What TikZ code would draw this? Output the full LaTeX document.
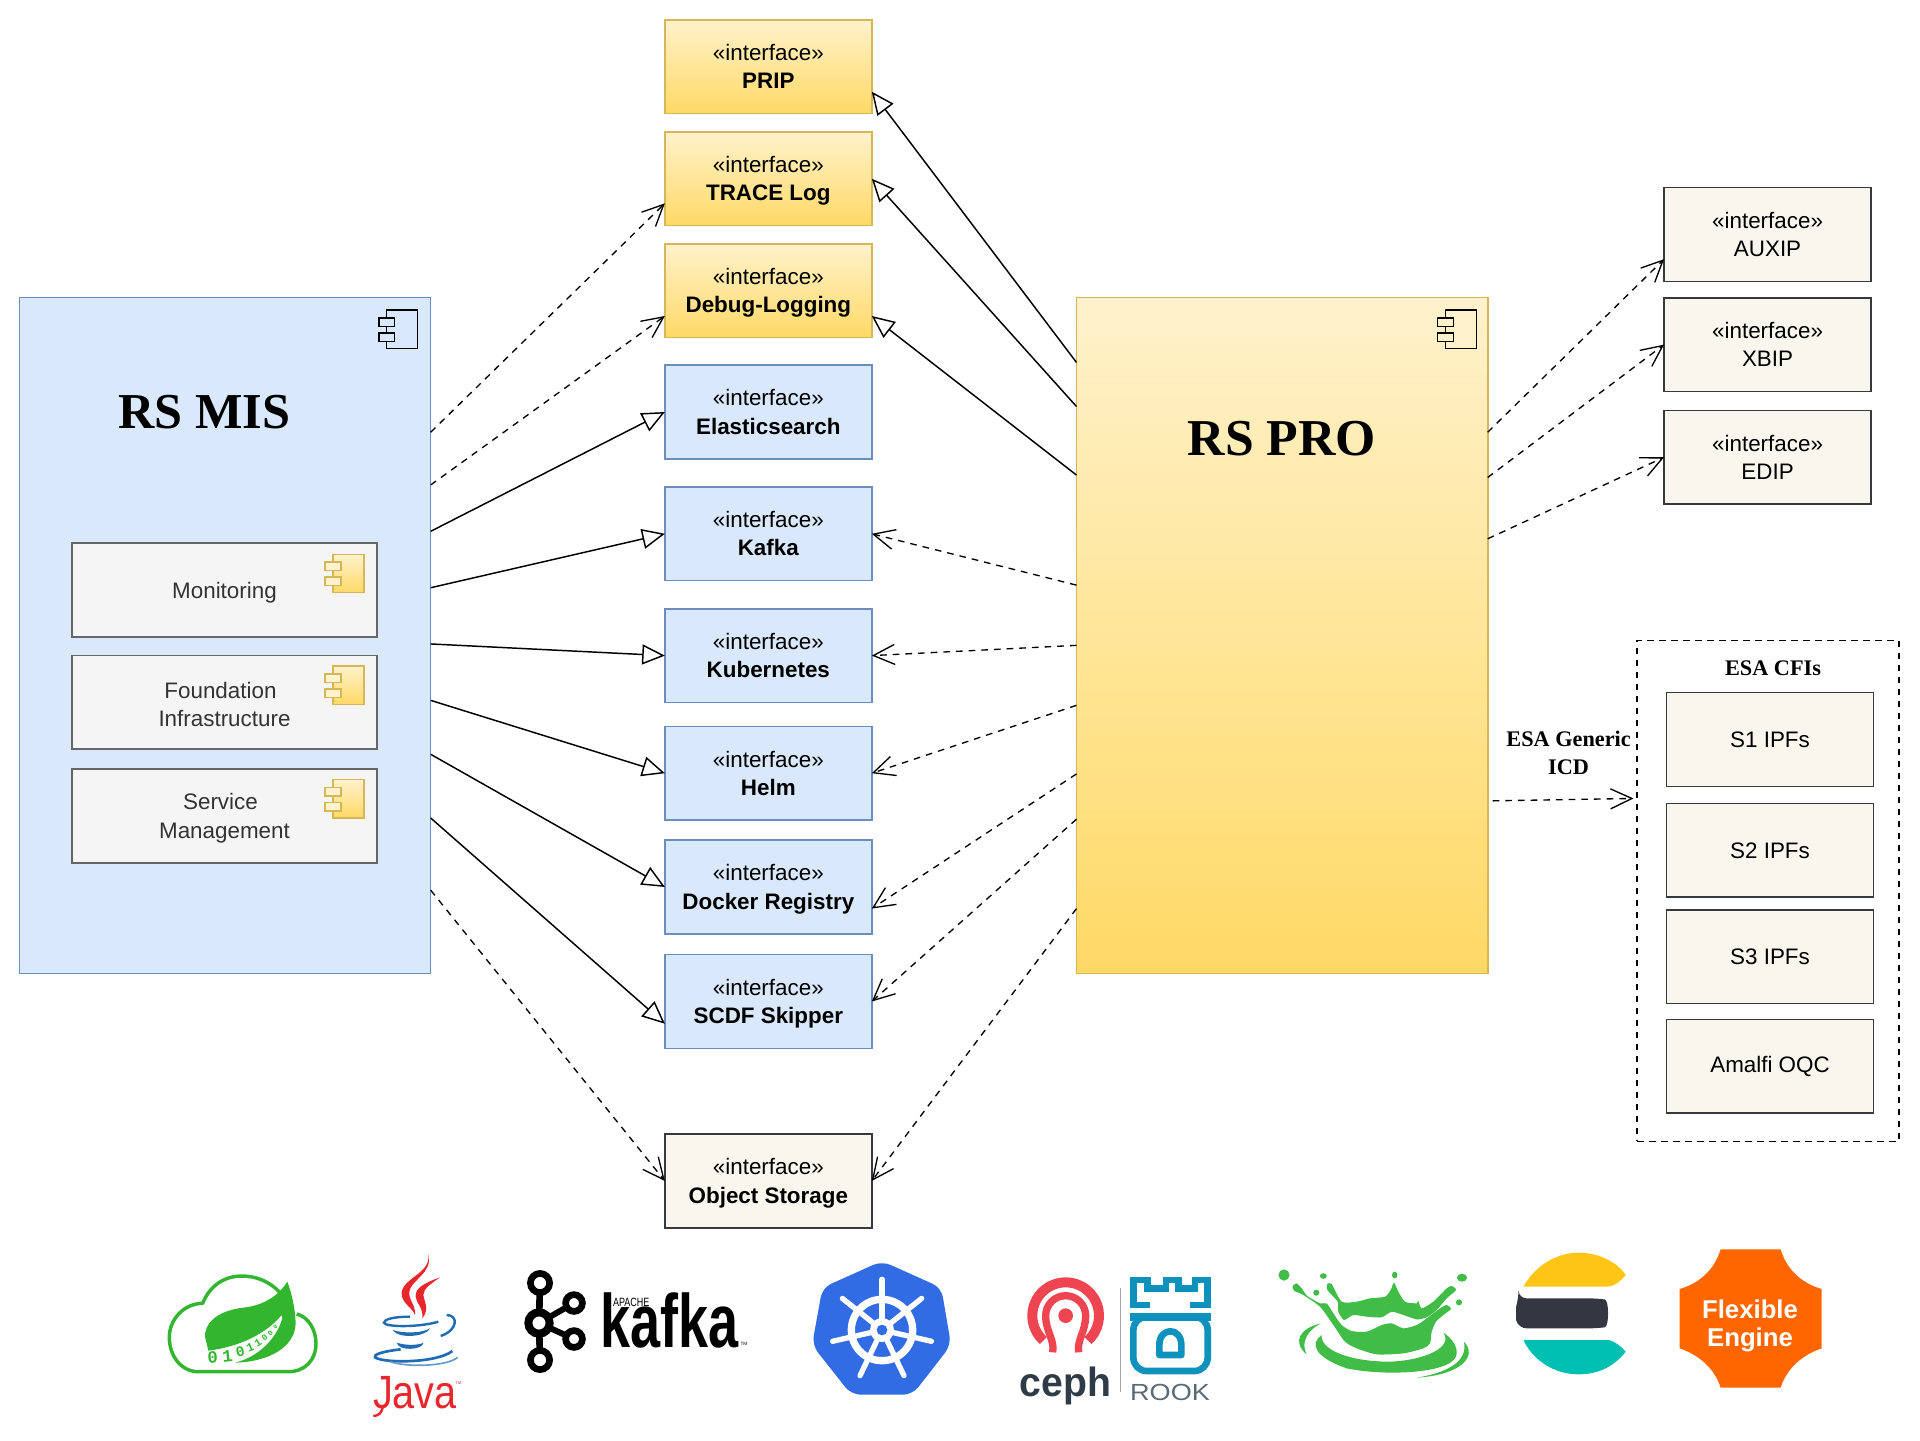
\documentclass[tikz,border=0pt]{standalone}
\usepackage{fontspec}
\usepackage{graphicx}
\setmainfont{Liberation Sans}
\setmonofont{Liberation Mono}
\newfontfamily\tnr{Liberation Serif}
\usetikzlibrary{arrows.meta,calc}
\definecolor{yt}{HTML}{FFF2CC}
\definecolor{yb}{HTML}{FFD966}
\definecolor{ys}{HTML}{D6B656}
\definecolor{bf}{HTML}{DAE8FC}
\definecolor{bs}{HTML}{6C8EBF}
\definecolor{nf}{HTML}{F9F7ED}
\definecolor{ns}{HTML}{36393D}
\definecolor{gf}{HTML}{F5F5F5}
\definecolor{gs}{HTML}{666666}
\definecolor{gt}{HTML}{333333}
\definecolor{spg}{HTML}{34B52F}
\definecolor{jred}{HTML}{E8262B}
\definecolor{jblue}{HTML}{1F6CB5}
\definecolor{kblue}{HTML}{326CE5}
\definecolor{cred}{HTML}{EF4551}
\definecolor{cdark}{HTML}{2F3B47}
\definecolor{rblue}{HTML}{0F91BE}
\definecolor{rgrey}{HTML}{5A6B78}
\definecolor{splash}{HTML}{41BC46}
\definecolor{eyel}{HTML}{FEC514}
\definecolor{edark}{HTML}{343741}
\definecolor{eteal}{HTML}{00BFB3}
\definecolor{forange}{HTML}{FF6600}
\tikzset{
  x=0.75pt,y=-0.75pt,
  boxbase/.style={rectangle,outer sep=0pt,inner sep=0pt,align=center,line width=1.2pt,
    font=\fontsize{16.8}{21.2}\selectfont},
  iface/.style={boxbase,minimum width=155.2pt,minimum height=70.3pt},
  yface/.style={iface,top color=yt,bottom color=yb,draw=ys},
  bface/.style={iface,fill=bf,draw=bs},
  nface/.style={iface,fill=nf,draw=ns},
  ipf/.style={boxbase,minimum width=155.2pt,minimum height=70.3pt,fill=nf,draw=ns},
  sub/.style={boxbase,minimum width=228.8pt,minimum height=70.3pt,fill=gf,draw=gs,text=gt},
  big/.style={boxbase,minimum width=308.4pt,minimum height=507pt},
  gen/.style={line width=1.1pt,-{Triangle[open,fill=white,length=17pt,width=15pt]}},
  dep/.style={line width=1pt,dash pattern=on 5pt off 4.5pt,-{Straight Barb[length=16pt,width=15pt]}},
  title/.style={font=\tnr\bfseries\fontsize{37.7}{42}\selectfont,inner sep=0pt},
  smallb/.style={font=\tnr\bfseries\fontsize{16.7}{21}\selectfont,inner sep=0pt,align=center},
  logot/.style={inner sep=0pt,outer sep=0pt},
  crop/.style 2 args={x=0.25pt,y=-0.25pt,shift={(#1*0.75pt,-#2*0.75pt)}},
}
\newcommand{\dnl}{\rule{0pt}{15.5pt}}
\newcommand{\compicon}[4]{%
  \draw[line width=1.1pt,#3] ({#1+8},#2) rectangle ({#1+39},{#2+38.5});
  \draw[line width=1.1pt,#4] (#1,{#2+8}) rectangle ({#1+16},{#2+16.5});
  \draw[line width=1.1pt,#4] (#1,{#2+23}) rectangle ({#1+16},{#2+31.5});
}
\begin{document}
\begin{tikzpicture}
\useasboundingbox (0,0) rectangle (1920,1440);
\begin{scope}[x=0.74761pt,y=-0.74761pt]
% big components
\node[big,fill=bf,draw=bs] (mis) at (225.8,637.5) {};
\node[big,top color=yt,bottom color=yb,draw=ys] (pro) at (1286.2,637.5) {};
\node[title] (mist) at (205,413) {RS MIS};
\node[title,font=\tnr\bfseries\fontsize{38.8}{42}\selectfont] (prot) at (1286,440) {RS PRO};
\compicon{380}{311}{draw=black,fill=bf}{draw=black,fill=bf}
\compicon{1442}{311}{draw=black,fill=yt}{draw=black,fill=yt}
% sub components
\node[sub] (mon) at (225.2,592) {\dnl Monitoring};
\node[sub] (fou) at (225.2,704.5) {\dnl Foundation\kern6pt\\Infrastructure};
\node[sub] (svc) at (225.2,818.7) {\dnl Service\kern6pt\\Management};
\compicon{326}{556}{draw=ys,top color=yt,bottom color=yb}{draw=ys,fill=yt}
\compicon{326}{668}{draw=ys,top color=yt,bottom color=yb}{draw=ys,fill=yt}
\compicon{326}{782}{draw=ys,top color=yt,bottom color=yb}{draw=ys,fill=yt}
% interfaces centre
\node[yface] (prip) at (770.8,66.8) {«interface»\\\textbf{PRIP}};
\node[yface] (trace) at (770.8,179.3) {\dnl «interface»\\\textbf{TRACE Log}};
\node[yface] (debug) at (770.8,291.7) {\dnl «interface»\\\textbf{Debug-Logging}};
\node[bface] (elastic) at (770.8,413.3) {«interface»\\\textbf{Elasticsearch}};
\node[bface] (kafka) at (770.8,535.5) {«interface»\\\textbf{Kafka}};
\node[bface] (kube) at (770.8,657.7) {«interface»\\\textbf{Kubernetes}};
\node[bface] (helm) at (770.8,775.7) {«interface»\\\textbf{Helm}};
\node[bface] (docker) at (770.8,889.8) {\dnl «interface»\\\textbf{Docker Registry}};
\node[bface] (scdf) at (770.8,1004.7) {\dnl «interface»\\\textbf{SCDF Skipper}};
\node[nface] (objst) at (770.8,1184.7) {\dnl «interface»\\\textbf{Object Storage}};
% interfaces right
\node[nface] (auxip) at (1773.2,235.2) {«interface»\\AUXIP};
\node[nface] (xbip) at (1773.2,345.7) {«interface»\\XBIP};
\node[nface] (edip) at (1773.2,458.7) {«interface»\\EDIP};
% CFI
\node[rectangle,draw=black,line width=1.2pt,dash pattern=on 5pt off 4pt,outer sep=0pt,inner sep=0pt,minimum width=196.4pt,minimum height=375.8pt] (cfi) at (1773.7,893.7) {};
\node[smallb] (cfit) at (1778.7,670.5) {ESA CFIs};
\node[ipf] (s1) at (1775.7,741.8) {S1 IPFs};
\node[ipf] (s2) at (1775.7,853) {S2 IPFs};
\node[ipf] (s3) at (1775.7,959.8) {S3 IPFs};
\node[ipf] (oqc) at (1775.7,1069.8) {Amalfi OQC};
\node[smallb] (icd) at (1573.6,755.5) {ESA Generic\\ICD};
% connectors MIS
\draw[dep] (mis.east |- 0,433.6) -- (trace.west |- 0,204);
\draw[dep] (mis.east |- 0,486.5) -- (debug.west |- 0,317);
\draw[gen] (mis.east |- 0,533) -- (elastic.west);
\draw[gen] (mis.east |- 0,589.6) -- (kafka.west);
\draw[gen] (mis.east |- 0,646) -- (kube.west);
\draw[gen] (mis.east |- 0,702.6) -- (helm.west);
\draw[gen] (mis.east |- 0,756.7) -- (docker.west);
\draw[gen] (mis.east |- 0,820.6) -- (scdf.west |- 0,1027);
\draw[dep] (mis.east |- 0,893) -- (objst.west);
% connectors PRO
\draw[gen] (pro.west |- 0,363.6) -- (prip.east |- 0,92);
\draw[gen] (pro.west |- 0,407.8) -- (trace.east);
\draw[gen] (pro.west |- 0,476.6) -- (debug.east |- 0,317);
\draw[dep] (pro.west |- 0,587) -- (kafka.east);
\draw[dep] (pro.west |- 0,647.4) -- (kube.east);
\draw[dep] (pro.west |- 0,707.6) -- (helm.east);
\draw[dep] (pro.west |- 0,776.4) -- (docker.east |- 0,911.5);
\draw[dep] (pro.west |- 0,821.8) -- (scdf.east);
\draw[dep] (pro.west |- 0,911.5) -- (objst.east);
\draw[dep] (pro.east |- 0,433.6) -- (auxip.west |- 0,260);
\draw[dep] (pro.east |- 0,479) -- (xbip.west);
\draw[dep] (pro.east |- 0,540.5) -- (edip.west);
\coordinate (g1) at (1497.4,803.4);
\coordinate (g2) at (1638.7,801);
\draw[dep] (g1) -- (g2);
\end{scope}
% ---- Spring + Java logos (3x crop coordinates)
\begin{scope}[crop={160}{1250}]
\draw[spg,line width=2.6pt,line join=round] (410,192) .. controls (445,200) and (468,240) .. (468,280)
  .. controls (468,330) and (435,365) .. (385,365) -- (115,365)
  .. controls (65,365) and (28,320) .. (28,262)
  .. controls (28,205) and (75,160) .. (128,160)
  .. controls (150,105) and (195,78) .. (245,78)
  .. controls (290,78) and (330,95) .. (360,128);
\fill[spg] (382,95) .. controls (360,130) and (320,165) .. (250,173)
  .. controls (185,180) and (135,210) .. (135,260) -- (145,302)
  .. controls (240,290) and (320,250) .. (365,195) -- (367,205)
  .. controls (345,280) and (280,325) .. (225,338)
  .. controls (330,335) and (405,290) .. (407,220)
  .. controls (405,170) and (395,130) .. (382,95) -- cycle;
\foreach \i/\d/\px/\py/\r/\s in {1/0/158/322/4/13,2/1/202/318/6/13,3/0/241/305/14/11,4/1/271/293/22/9,5/1/294/279/32/8,6/0/314/263/42/6.5,7/0/331/250/48/5.5,8/0/346/232/58/4.5}{
  \node[logot,text=spg,rotate=\r,font=\ttfamily\bfseries\fontsize{\s}{\s}\selectfont] (dg\i) at (\px,\py) {\d};
}
\fill[jred] (805,12) .. controls (815,70) and (725,85) .. (725,130) .. controls (725,160) and (755,170) .. (765,195)
  .. controls (768,165) and (745,150) .. (748,125) .. controls (752,90) and (820,70) .. (805,12) -- cycle;
\fill[jred] (840,82) .. controls (790,100) and (765,115) .. (767,140) .. controls (768,160) and (790,170) .. (787,205)
  .. controls (810,175) and (792,155) .. (790,135) .. controls (790,115) and (815,100) .. (840,82) -- cycle;
\draw[jblue,line width=1.8pt] (750,200) .. controls (700,200) and (672,208) .. (672,218) .. controls (675,232) and (780,232) .. (835,215);
\draw[jblue,line width=1.8pt] (860,195) .. controls (895,195) and (895,240) .. (842,258);
\fill[jblue] (698,240) .. controls (735,252) and (790,248) .. (810,235) .. controls (800,260) and (715,268) .. (698,240) -- cycle;
\fill[jblue] (710,278) .. controls (740,288) and (780,285) .. (790,278) .. controls (790,300) and (715,305) .. (710,278) -- cycle;
\draw[jblue,line width=2pt] (722,298) .. controls (660,305) and (640,315) .. (645,322) .. controls (670,340) and (830,340) .. (877,303);
\draw[jblue!70,line width=1.2pt] (690,335) .. controls (740,352) and (860,350) .. (893,322);
\node[logot,anchor=base,text=jred,font=\fontsize{35}{35}\selectfont] (javat) at (765,475) {\scalebox{0.85}[1]{Java}};
\draw[jred,line width=1.8pt] (668,465) .. controls (668,490) and (655,497) .. (640,498);
\node[logot,text=jred,font=\fontsize{3}{3}\selectfont] (jtm) at (895,400) {TM};
\end{scope}
% ---- Kafka logo
\coordinate (ka) at (540,1283);
\coordinate (kb) at (539,1323);
\coordinate (kc) at (574,1303);
\coordinate (kd) at (574,1339);
\coordinate (ke) at (540,1360);
\draw[black,line width=5pt] (ka) -- (kb) -- (ke);
\draw[black,line width=4.5pt] (kc) -- (kb) -- (kd);
\foreach \c/\r in {ka/7.2,ke/7.2,kc/6.3,kd/6.3}{\draw[black,line width=5pt,fill=white] (\c) circle[radius=\r pt];}
\draw[black,line width=6pt,fill=white] (kb) circle[radius=8pt];
\node[logot,anchor=base west,font=\bfseries\fontsize{54}{54}\selectfont] (kaft) at (600,1347) {\scalebox{0.75}[1.05]{kafka}};
\node[logot,anchor=base west,font=\fontsize{9}{9}\selectfont] (kapa) at (613,1306) {\scalebox{0.75}[1]{APACHE}};
\node[logot,font=\fontsize{3.5}{3.5}\selectfont] (ktm) at (744,1344) {TM};
% ---- Kubernetes logo
\begin{scope}[x=0.4593pt,y=-0.25pt,shift={(0pt,-915pt)}]
\fill[kblue,rounded corners=7pt] (1440,123) -- (1537,203) -- (1553,375) -- (1490,524) -- (1390,524) -- (1326,375) -- (1343,203) -- cycle;
\end{scope}
\coordinate (kw) at (882,1330);
\foreach \a in {0,...,6}{
  \draw[white,line width=4pt,line cap=round] (kw) -- ++({90+\a*51.4286}:38pt);
}
\draw[white,line width=5.5pt] (kw) circle[radius=23pt];
\fill[white] (kw) circle[radius=9pt];
\fill[kblue] (kw) circle[radius=4pt];
% ---- Ceph + Rook
\begin{scope}[crop={1010}{1260}]
\coordinate (cc) at (167,167);
\draw[cred,line width=7.5pt] (cc) ++(228:25pt) arc[start angle=228,end angle=-48,radius=25pt];
\draw[cred,line width=5.5pt] (128,277) .. controls (135,240) and (107,215) .. (107,167) .. controls (107,134) and (134,107) .. (167,107) .. controls (200,107) and (227,134) .. (227,167) .. controls (227,215) and (200,240) .. (206,277);
\fill[cred] (cc) circle[radius=5.5pt];
\node[logot,anchor=base,text=cdark,font=\bfseries\fontsize{30.6}{30.6}\selectfont] (ceph) at (167,408) {\scalebox{0.96}[1]{ceph}};
\draw[gray!70,line width=0.7pt] (331,85) -- (331,395);
\draw[rblue,line width=5pt,line join=miter] (420,135) -- (370,135) -- (370,60) -- (412,60) -- (412,85) -- (468,85) -- (468,60) -- (505,60) -- (505,85) -- (555,85) -- (555,60) -- (593,60) -- (593,135) -- (540,135);
\draw[rblue,line width=5pt,rounded corners=10pt] (370,170) -- (593,170) -- (593,333) -- (370,333) -- cycle;
\fill[rblue] (360,160) rectangle (603,182);
\draw[rblue,line width=5pt,line join=round] (448,285) -- (448,255) .. controls (448,200) and (514,200) .. (514,255) -- (514,285) -- cycle;
\node[logot,anchor=base,text=rgrey,font=\fontsize{17.5}{17.5}\selectfont] (rook) at (480,422) {\scalebox{1.16}[1]{ROOK}};
\end{scope}
% ---- Splash
\begin{scope}[crop={1270}{1260}]
\fill[splash] plot[smooth cycle,tension=0.4] coordinates {(68,78) (80,70) (95,85) (112,108) (150,130) (170,130) (190,160) (215,195) (245,213) (290,215) (335,195) (365,190) (400,205) (440,195) (470,175) (510,145) (530,135) (543,147) (520,165) (498,185) (485,215) (480,250) (460,265) (400,280) (320,283) (260,265) (225,245) (190,195) (150,140) (100,105) (72,92)};
\fill[splash] plot[smooth cycle,tension=0.4] coordinates {(172,72) (185,72) (215,125) (260,125) (300,115) (345,110) (362,90) (372,68) (385,95) (405,125) (440,130) (445,122) (455,145) (490,125) (530,85) (545,78) (558,90) (530,115) (500,150) (470,172) (440,178) (400,165) (365,155) (335,172) (290,170) (250,165) (222,180) (205,155) (203,125) (172,90)};
\fill[splash] (155,225) .. controls (120,250) and (130,290) .. (230,325) .. controls (350,350) and (560,340) .. (560,280) .. controls (562,255) and (540,230) .. (520,218)
  .. controls (550,260) and (470,300) .. (360,305) .. controls (240,305) and (150,270) .. (155,225) -- cycle;
\fill[splash] (152,190) .. controls (90,205) and (65,245) .. (110,283) .. controls (90,245) and (115,210) .. (152,190) -- cycle;
\fill[splash] (582,245) .. controls (625,290) and (570,345) .. (440,353) .. controls (520,340) and (595,310) .. (582,245) -- cycle;
\foreach \dx/\dy/\rx/\ry in {42/45/4.2/4.2,160/48/2.6/2.1,374/45/2/2.6,576/53/3.8/3.0,567/127/2.3/2.3,139/98/2.3/2.3}{
  \fill[splash] (\dx,\dy) ellipse[x radius=\rx pt,y radius=\ry pt];
}
\end{scope}
% ---- Elastic + Flexible Engine
\begin{scope}[x=0.4593pt,y=-0.25pt,shift={(720pt,-915pt)}]
\fill[eyel] (920,200) .. controls (940,135) and (975,98) .. (1010,98) .. controls (1045,98) and (1075,130) .. (1087,165) .. controls (1080,180) and (1070,200) .. (1055,200) -- cycle;
\fill[edark,rounded corners=6pt] (912,235) -- (1040,235) .. controls (1060,240) and (1060,320) .. (1040,325) -- (912,325) .. controls (908,300) and (908,260) .. (912,235) -- cycle;
\fill[eteal] (920,360) -- (1060,360) .. controls (1070,365) and (1080,380) .. (1087,395) .. controls (1070,435) and (1045,463) .. (1010,463) .. controls (970,463) and (935,420) .. (920,360) -- cycle;
\fill[forange] (1242,88) -- (1340,88) .. controls (1350,150) and (1375,190) .. (1407,207) -- (1407,385) .. controls (1375,405) and (1350,445) .. (1340,503) -- (1242,503) .. controls (1232,445) and (1207,405) .. (1175,385) -- (1175,207) .. controls (1207,190) and (1232,150) .. (1242,88) -- cycle;
\end{scope}
\node[logot,align=center,text=white,font=\bfseries\fontsize{19.3}{21}\selectfont] (flex) at (1750,1326) {Flexible\\Engine};
\end{tikzpicture}
\end{document}
